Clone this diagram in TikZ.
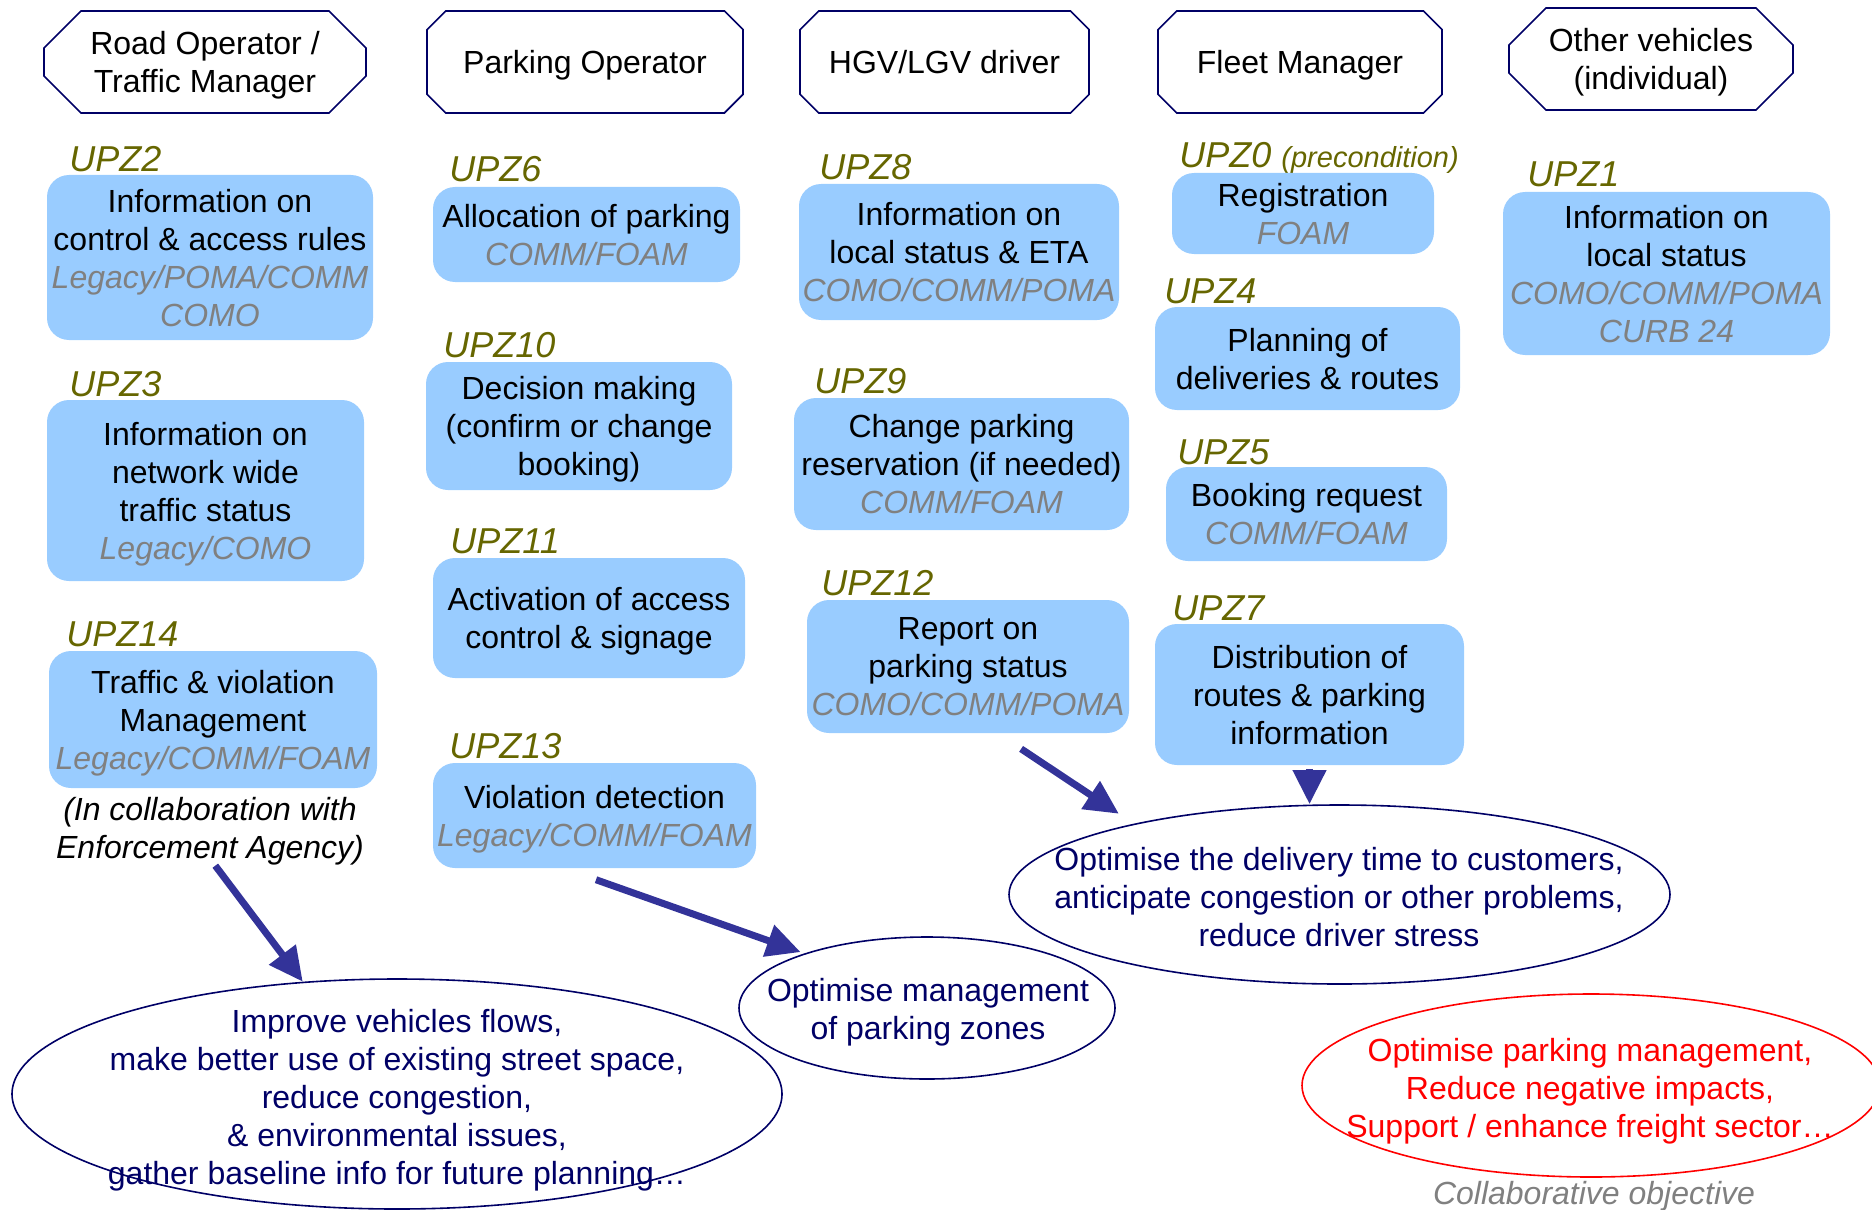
\documentclass[tikz,border=0pt]{standalone}
\usepackage{fontspec}
\setmainfont{Liberation Sans}
\usetikzlibrary{shapes.geometric,shapes.misc,arrows.meta}
\definecolor{boxblue}{RGB}{153,204,255}
\definecolor{upzolive}{RGB}{102,102,0}
\definecolor{goalnavy}{RGB}{0,0,102}
\definecolor{arrowblue}{RGB}{51,51,153}
\definecolor{sysgray}{RGB}{128,128,128}
\newcommand{\sysref}[1]{{\color{sysgray}\itshape #1}}
\begin{document}
\begin{tikzpicture}[x=0.5pt,y=-0.5pt,
    actor node/.style={chamfered rectangle,chamfered rectangle xsep=15pt,draw=goalnavy,line width=0.8pt,align=center,inner sep=0pt,minimum height=51pt,text depth=0pt,font=\fontsize{16}{19}\selectfont},
    task node/.style={rectangle,rounded corners=11pt,fill=boxblue,align=center,inner sep=0pt,text depth=-1pt,font=\fontsize{16}{19}\selectfont},
    upz tag/.style={anchor=base west,inner sep=0pt,text=upzolive,font=\fontsize{18}{20}\selectfont\itshape},
    goal node/.style={ellipse,draw=goalnavy,line width=0.8pt,inner sep=0pt},
    goal text/.style={align=center,text=goalnavy,text depth=-1pt,font=\fontsize{16}{19}\selectfont},
    goal arrow/.style={-{Triangle[length=17pt,width=16pt]},draw=arrowblue,fill=arrowblue,line width=3.5pt}]
    \useasboundingbox (0,0) rectangle (1872,1209);

    % actors
    \node[actor node,minimum width=161pt] (road) at (205,62) {Road Operator /\\Traffic Manager};
    \node[actor node,minimum width=158pt] (parking) at (585,62) {Parking Operator};
    \node[actor node,minimum width=144.5pt] (driver) at (944.5,62) {HGV/LGV driver};
    \node[actor node,minimum width=142pt] (fleet) at (1300,62) {Fleet Manager};
    \node[actor node,minimum width=142pt] (others) at (1651,59) {Other vehicles\\(individual)};

    % road operator column
    \node[upz tag] (upz2-tag) at (69,172) {UPZ2};
    \node[task node,minimum width=163pt,minimum height=82.5pt] (upz2) at (210,257.5) {Information on\\control \& access rules\\\sysref{Legacy/POMA/COMM}\\\sysref{COMO}};
    \node[upz tag] (upz3-tag) at (69,396.5) {UPZ3};
    \node[task node,minimum width=158.5pt,minimum height=90.5pt] (upz3) at (205.5,490.5) {Information on\\network wide\\traffic status\\\sysref{Legacy/COMO}};
    \node[upz tag] (upz14-tag) at (66,646.5) {UPZ14};
    \node[task node,minimum width=164pt,minimum height=68.5pt] (upz14) at (213,719.5) {Traffic \& violation\\Management\\\sysref{Legacy/COMM/FOAM}};
    \node[align=center,text depth=-1pt,font=\fontsize{16}{19}\selectfont\itshape] (note) at (210,828) {(In collaboration with\\Enforcement Agency)};

    % parking operator column
    \node[upz tag] (upz6-tag) at (449,182) {UPZ6};
    \node[task node,minimum width=153.5pt,minimum height=47.5pt] (upz6) at (586.5,234.5) {Allocation of parking\\\sysref{COMM/FOAM}};
    \node[upz tag] (upz10-tag) at (443,357.5) {UPZ10};
    \node[task node,minimum width=153pt,minimum height=64pt] (upz10) at (579,426) {Decision making\\(confirm or change\\booking)};
    \node[upz tag] (upz11-tag) at (450,553.5) {UPZ11};
    \node[task node,minimum width=156pt,minimum height=60pt] (upz11) at (589,618) {Activation of access\\control \& signage};
    \node[upz tag] (upz13-tag) at (449,758.5) {UPZ13};
    \node[task node,minimum width=161.5pt,minimum height=52.5pt] (upz13) at (594.5,815.5) {Violation detection\\\sysref{Legacy/COMM/FOAM}};

    % driver column
    \node[upz tag] (upz8-tag) at (819,179.5) {UPZ8};
    \node[task node,minimum width=160pt,minimum height=68pt] (upz8) at (959,252) {Information on\\local status \& ETA\\\sysref{COMO/COMM/POMA}};
    \node[upz tag] (upz9-tag) at (814,393.5) {UPZ9};
    \node[task node,minimum width=167.5pt,minimum height=66pt] (upz9) at (961.5,464) {Change parking\\reservation (if needed)\\\sysref{COMM/FOAM}};
    \node[upz tag] (upz12-tag) at (821,595.5) {UPZ12};
    \node[task node,minimum width=161pt,minimum height=66.5pt] (upz12) at (968,666.5) {Report on\\parking status\\\sysref{COMO/COMM/POMA}};

    % fleet manager column
    \node[upz tag] (upz0-tag) at (1179,168) {UPZ0 {\fontsize{14.5}{16}\selectfont(precondition)}};
    \node[task node,minimum width=131pt,minimum height=40.5pt] (upz0) at (1303,213.5) {Registration\\\sysref{FOAM}};
    \node[upz tag] (upz4-tag) at (1164,303) {UPZ4};
    \node[task node,minimum width=152.5pt,minimum height=51.5pt] (upz4) at (1307.5,358.5) {Planning of\\deliveries \& routes};
    \node[upz tag] (upz5-tag) at (1177,464.5) {UPZ5};
    \node[task node,minimum width=140.5pt,minimum height=47pt] (upz5) at (1306.5,514) {Booking request\\\sysref{COMM/FOAM}};
    \node[upz tag] (upz7-tag) at (1172,620.5) {UPZ7};
    \node[task node,minimum width=154.5pt,minimum height=70.5pt] (upz7) at (1309.5,694.5) {Distribution of\\routes \& parking\\information};

    % other vehicles column
    \node[upz tag] (upz1-tag) at (1527,187) {UPZ1};
    \node[task node,minimum width=163.5pt,minimum height=81.5pt] (upz1) at (1666.5,273.5) {Information on\\local status\\\sysref{COMO/COMM/POMA}\\\sysref{CURB 24}};

    % objectives
    \node[goal node,minimum width=385pt,minimum height=115pt] (flows) at (397,1094) {};
    \node[goal text] (flows-text) at (397,1097) {Improve vehicles flows,\\make better use of existing street space,\\reduce congestion,\\\& environmental issues,\\gather baseline info for future planning…};
    \node[goal node,minimum width=188pt,minimum height=71pt] (zones) at (927,1008) {};
    \node[goal text] (zones-text) at (928,1009) {Optimise management\\of parking zones};
    \node[goal node,minimum width=330.5pt,minimum height=89.5pt] (delivery) at (1339.5,894.5) {};
    \node[goal text] (delivery-text) at (1339,896.5) {Optimise the delivery time to customers,\\anticipate congestion or other problems,\\reduce driver stress};
    \node[goal node,draw=red,minimum width=289pt,minimum height=91.5pt] (common) at (1591,1085.5) {};
    \node[goal text,text=red] (common-text) at (1590,1088) {Optimise parking management,\\Reduce negative impacts,\\Support / enhance freight sector…};
    \node[text=sysgray,text depth=0pt,font=\fontsize{16}{19}\selectfont\itshape] (common-tag) at (1594,1193) {Collaborative objective};

    \draw[goal arrow] (note.-82) -- (flows.130);
    \draw[goal arrow,shorten <=17pt,shorten >=2pt] (upz13.-120) -- (zones.156);
    \draw[goal arrow,shorten <=14pt,shorten >=9pt] (upz12.-66) -- (delivery.161);
    \draw[goal arrow,shorten <=2pt] (upz7.south) -- (upz7.south |- delivery.north);
\end{tikzpicture}
\end{document}
